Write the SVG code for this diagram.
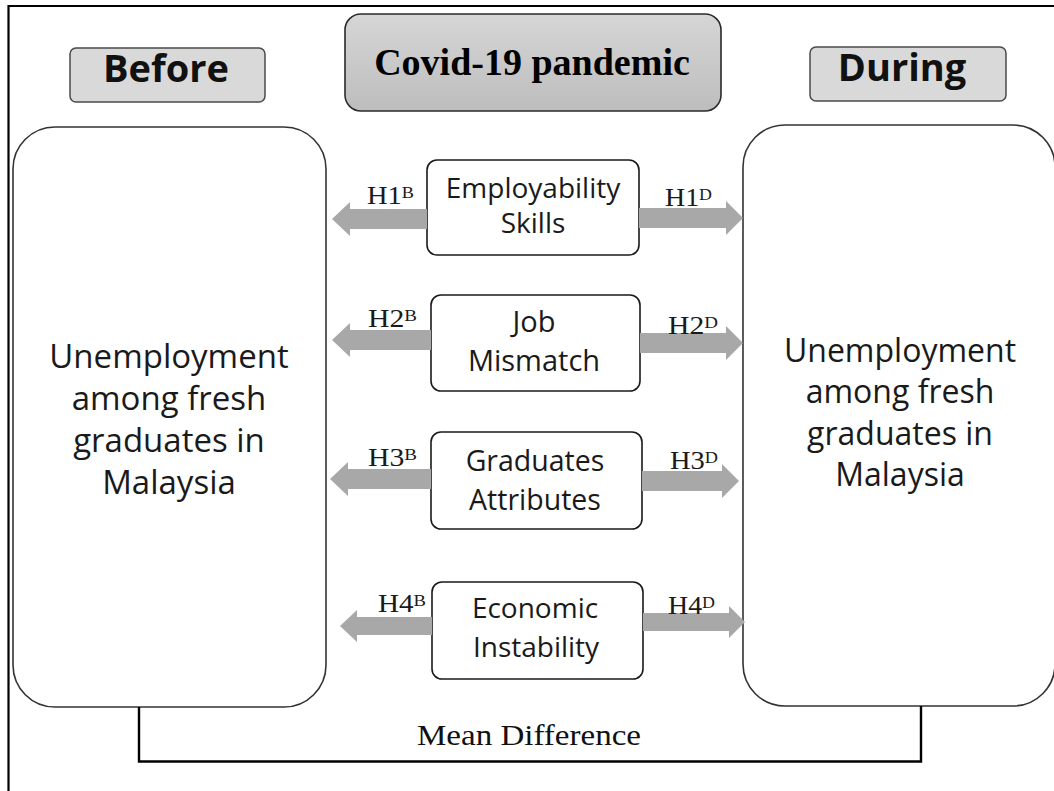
<svg xmlns="http://www.w3.org/2000/svg" width="1054" height="791" viewBox="0 0 1054 791">
  <defs>
    <linearGradient id="covidFill" x1="0" y1="0" x2="0" y2="1">
      <stop offset="0" stop-color="#d6d6d6"/>
      <stop offset="1" stop-color="#bdbdbd"/>
    </linearGradient>
    <style>
      .frame { fill: none; stroke: #000; stroke-width: 2.2; }
      .phase { fill: #d9d9d9; stroke: #4a4a4a; stroke-width: 1.5; }
      .phase-text { font-family: "Open Sans", "Liberation Sans", sans-serif; font-weight: 700; font-size: 38px; fill: #111; text-anchor: middle; }
      .title { fill: url(#covidFill); stroke: #2a2a2a; stroke-width: 1.6; }
      .title-text { font-family: "Liberation Serif", "Times New Roman", serif; font-weight: 700; font-size: 38px; fill: #000; text-anchor: middle; }
      .outcome { fill: #fff; stroke: #333; stroke-width: 1.6; }
      .outcome-text { font-family: "Open Sans", "Liberation Sans", sans-serif; font-size: 33px; fill: #1a1a1a; text-anchor: middle; }
      .factor { fill: #fff; stroke: #1a1a1a; stroke-width: 1.6; }
      .factor-text { font-family: "Open Sans", "Liberation Sans", sans-serif; font-size: 28px; fill: #1a1a1a; text-anchor: middle; }
      .arrow { fill: #a8a8a8; stroke: none; }
      .hyp { font-family: "Liberation Serif", "Times New Roman", serif; font-size: 25px; fill: #1a1a1a; }
      .hyp tspan { font-size: 16px; }
      .bracket { fill: none; stroke: #000; stroke-width: 2.4; }
      .note { font-family: "Liberation Serif", "Times New Roman", serif; font-size: 30px; fill: #111; text-anchor: middle; }
    </style>
  </defs>

  <rect width="1054" height="791" fill="#fff"/>

  <!-- outer frame: top and left edges -->
  <path class="frame" d="M8.5,791 V6 H1054"/>

  <g id="before">
    <rect class="phase" x="70" y="48" width="195" height="54" rx="6"/>
    <text class="phase-text" x="166" y="82">Before</text>
  </g>

  <g id="covid">
    <rect class="title" x="345" y="14" width="376" height="97" rx="16"/>
    <text class="title-text" x="532" y="75">Covid-19 pandemic</text>
  </g>

  <g id="during">
    <rect class="phase" x="810" y="47" width="196" height="54" rx="6"/>
    <text class="phase-text" x="902" y="81">During</text>
  </g>

  <g id="unemployment-before">
    <rect class="outcome" x="13" y="127" width="313" height="580" rx="42"/>
    <text class="outcome-text" x="169" y="368">Unemployment</text>
    <text class="outcome-text" x="169" y="410">among fresh</text>
    <text class="outcome-text" x="169" y="452">graduates in</text>
    <text class="outcome-text" x="169" y="494">Malaysia</text>
  </g>

  <g id="unemployment-during">
    <rect class="outcome" x="743" y="125" width="312" height="581" rx="42"/>
    <text class="outcome-text" x="900" y="362" style="font-size:32px">Unemployment</text>
    <text class="outcome-text" x="900" y="403" style="font-size:32px">among fresh</text>
    <text class="outcome-text" x="900" y="445" style="font-size:32px">graduates in</text>
    <text class="outcome-text" x="900" y="486" style="font-size:32px">Malaysia</text>
  </g>

  <g id="employability-skills">
    <rect class="factor" x="427" y="160" width="212" height="95" rx="10"/>
    <text class="factor-text" x="533" y="198">Employability</text>
    <text class="factor-text" x="533" y="233">Skills</text>
  </g>

  <g id="job-mismatch">
    <rect class="factor" x="431" y="295" width="209" height="96" rx="10"/>
    <text class="factor-text" x="534" y="332" style="font-size:29px">Job</text>
    <text class="factor-text" x="534" y="371" style="font-size:29px">Mismatch</text>
  </g>

  <g id="graduates-attributes">
    <rect class="factor" x="431" y="432" width="211" height="97" rx="10"/>
    <text class="factor-text" x="535" y="471" style="font-size:28.5px">Graduates</text>
    <text class="factor-text" x="535" y="510" style="font-size:28.5px">Attributes</text>
  </g>

  <g id="economic-instability">
    <rect class="factor" x="432" y="582" width="211" height="97" rx="10"/>
    <text class="factor-text" x="535" y="618">Economic</text>
    <text class="factor-text" x="536" y="657">Instability</text>
  </g>

  <g id="connectors">
    <!-- block arrows from each factor towards the before / during outcomes -->
    <path class="arrow" d="M427,209 H350 V202 L332,219 L350,236 V229 H427 Z"/>
    <path class="arrow" d="M639,208 H726 V201 L743,218 L726,235 V228 H639 Z"/>
    <path class="arrow" d="M431,330 H350 V323 L332,340 L350,357 V350 H431 Z"/>
    <path class="arrow" d="M640,333 H726 V326 L743,343 L726,360 V353 H640 Z"/>
    <path class="arrow" d="M431,469 H348 V462 L330,479 L348,496 V489 H431 Z"/>
    <path class="arrow" d="M642,471 H722 V464 L739,481 L722,498 V491 H642 Z"/>
    <path class="arrow" d="M432,617 H357 V610 L340,626 L357,642 V635 H432 Z"/>
    <path class="arrow" d="M643,613 H729 V606 L745,622 L729,638 V631 H643 Z"/>

    <text class="hyp" x="367" y="204" textLength="47" lengthAdjust="spacingAndGlyphs">H1<tspan dy="-6">B</tspan></text>
    <text class="hyp" x="665" y="206" textLength="47" lengthAdjust="spacingAndGlyphs">H1<tspan dy="-6">D</tspan></text>
    <text class="hyp" x="368" y="327" textLength="49" lengthAdjust="spacingAndGlyphs">H2<tspan dy="-6">B</tspan></text>
    <text class="hyp" x="668" y="334" textLength="50" lengthAdjust="spacingAndGlyphs">H2<tspan dy="-6">D</tspan></text>
    <text class="hyp" x="368" y="466" textLength="49" lengthAdjust="spacingAndGlyphs">H3<tspan dy="-6">B</tspan></text>
    <text class="hyp" x="670" y="469" textLength="48" lengthAdjust="spacingAndGlyphs">H3<tspan dy="-6">D</tspan></text>
    <text class="hyp" x="378" y="612" textLength="48" lengthAdjust="spacingAndGlyphs">H4<tspan dy="-6">B</tspan></text>
    <text class="hyp" x="668" y="614" textLength="47" lengthAdjust="spacingAndGlyphs">H4<tspan dy="-6">D</tspan></text>

    <!-- bracket joining both outcomes -->
    <path class="bracket" d="M139,707 V761.5 H921 V706"/>
    <text class="note" x="529" y="745" textLength="224" lengthAdjust="spacingAndGlyphs">Mean Difference</text>
  </g>
</svg>
